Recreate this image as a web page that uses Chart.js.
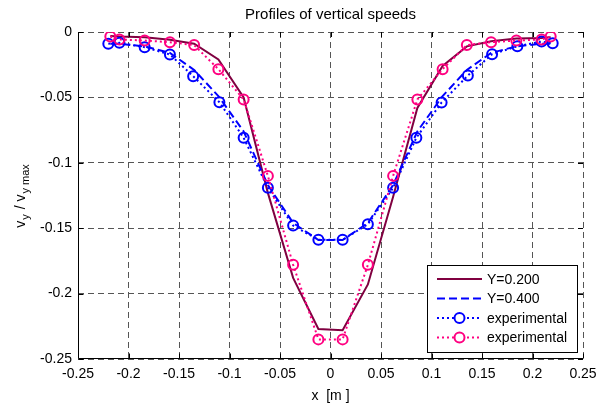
<!DOCTYPE html>
<html>
<head>
<meta charset="utf-8">
<script src="https://cdn.jsdelivr.net/npm/chart.js@4.4.0/dist/chart.umd.min.js"></script>
<style>
  html, body { margin: 0; padding: 0; background: #fff; }
</style>
</head>
<body>
<canvas id="grafico" width="599" height="405"></canvas>
<script>
// datos
const xSim = [-0.218, -0.209, -0.184, -0.159, -0.135, -0.111, -0.086, -0.062, -0.037, -0.012,
              0.012, 0.037, 0.062, 0.086, 0.111, 0.135, 0.159, 0.184, 0.209, 0.218];
const ySim200 = [-0.003, -0.0035, -0.004, -0.006, -0.009, -0.021, -0.050, -0.123, -0.188, -0.227,
                 -0.228, -0.193, -0.126, -0.058, -0.026, -0.011, -0.007, -0.005, -0.0045, -0.004];
const ySim400 = [-0.009, -0.009, -0.011, -0.016, -0.029, -0.049, -0.076, -0.117, -0.146, -0.159,
                 -0.159, -0.146, -0.117, -0.076, -0.049, -0.029, -0.016, -0.011, -0.009, -0.009];

const xExpAzul = [-0.220, -0.209, -0.184, -0.159, -0.136, -0.110, -0.086, -0.062, -0.037, -0.012,
                  0.012, 0.037, 0.062, 0.085, 0.110, 0.136, 0.160, 0.185, 0.209, 0.220];
const yExpAzul = [-0.0090, -0.0083, -0.0116, -0.0172, -0.0338, -0.0537, -0.0809, -0.1191, -0.148, -0.1589,
                  -0.1589, -0.147, -0.1191, -0.0808, -0.0539, -0.0333, -0.0170, -0.0109, -0.0073, -0.0086];

const xExpRosa = [-0.218, -0.209, -0.184, -0.159, -0.135, -0.111, -0.086, -0.062, -0.037, -0.012,
                  0.012, 0.037, 0.062, 0.086, 0.111, 0.135, 0.159, 0.184, 0.209, 0.218];
const yExpRosa = [-0.0035, -0.0057, -0.0065, -0.0078, -0.0100, -0.0284, -0.0516, -0.110, -0.178, -0.235,
                  -0.235, -0.178, -0.110, -0.0516, -0.0284, -0.0100, -0.0078, -0.0065, -0.0057, -0.0035];

const xTicks = [-0.25, -0.2, -0.15, -0.1, -0.05, 0, 0.05, 0.1, 0.15, 0.2, 0.25];
const yTicks = [0, -0.05, -0.1, -0.15, -0.2, -0.25];
const etiquetas = ["Y=0.200", "Y=0.400", "experimental", "experimental"];

const FUENTE = "'Liberation Sans', Arial, sans-serif";

function puntos(xs, ys) {
  return xs.map((x, i) => ({ x: x, y: ys[i] }));
}

// titulo, ejes, ticks interiores, etiqueta y, leyenda
const extras = {
  id: "extras",
  afterDraw(chart) {
    const { ctx, chartArea: a, scales } = chart;
    ctx.save();
    ctx.setLineDash([]);
    ctx.strokeStyle = "#000";
    ctx.lineWidth = 1;

    // ejes izquierdo e inferior
    const izq = Math.round(a.left) + 0.5, abajo = Math.round(a.bottom) - 0.5;
    ctx.beginPath();
    ctx.moveTo(izq, a.top); ctx.lineTo(izq, abajo);
    ctx.lineTo(a.right, abajo);
    ctx.stroke();

    // ticks hacia dentro
    ctx.beginPath();
    xTicks.forEach(v => {
      const px = Math.round(scales.x.getPixelForValue(v)) + 0.5;
      ctx.moveTo(px, abajo); ctx.lineTo(px, abajo - 5);
      ctx.moveTo(px, a.top); ctx.lineTo(px, a.top + 5);
    });
    yTicks.forEach(v => {
      const py = Math.round(scales.y.getPixelForValue(v)) + 0.5;
      ctx.moveTo(izq, py); ctx.lineTo(izq + 5, py);
      ctx.moveTo(a.right, py); ctx.lineTo(a.right - 5, py);
    });
    ctx.stroke();

    // titulo
    ctx.fillStyle = "#000";
    ctx.font = "15px " + FUENTE;
    ctx.textAlign = "center";
    ctx.textBaseline = "middle";
    ctx.fillText("Profiles of vertical speeds", (a.left + a.right) / 2, 15);

    // titulo eje x
    ctx.font = "14px " + FUENTE;
    ctx.fillText("x  [m ]", (a.left + a.right) / 2, 396);

    // etiqueta eje y con subindices
    const partes = [
      { t: "v", sub: false }, { t: "y", sub: true },
      { t: " / v", sub: false }, { t: "y max", sub: true }
    ];
    const fNormal = "14px " + FUENTE, fSub = "11px " + FUENTE;
    let total = 0;
    partes.forEach(p => { ctx.font = p.sub ? fSub : fNormal; p.w = ctx.measureText(p.t).width; total += p.w + (p.sub ? 2 : 0); });
    ctx.translate(21, (a.top + a.bottom) / 2);
    ctx.rotate(-Math.PI / 2);
    ctx.textAlign = "left";
    let cx = -total / 2;
    partes.forEach(p => {
      ctx.font = p.sub ? fSub : fNormal;
      ctx.fillText(p.t, cx + (p.sub ? 1 : 0), p.sub ? 5 : 0);
      cx += p.w + (p.sub ? 2 : 0);
    });
    ctx.setTransform(1, 0, 0, 1, 0, 0);

    // leyenda
    const lx = 427, ly = 265, lw = 150, lh = 87;
    ctx.fillStyle = "#fff";
    ctx.fillRect(lx, ly, lw, lh);
    ctx.strokeStyle = "#000";
    ctx.lineWidth = 1;
    ctx.strokeRect(lx + 0.5, ly + 0.5, lw, lh);
    chart.data.datasets.forEach((ds, i) => {
      const yy = ly + 14 + i * 19.5;
      ctx.strokeStyle = ds.borderColor;
      ctx.lineWidth = ds.borderWidth;
      ctx.setLineDash(ds.borderDash || []);
      ctx.beginPath();
      ctx.moveTo(lx + 10, yy); ctx.lineTo(lx + 55, yy);
      ctx.stroke();
      ctx.setLineDash([]);
      if (ds.pointRadius > 0) {
        ctx.beginPath();
        ctx.arc(lx + 32.5, yy, ds.pointRadius, 0, Math.PI * 2);
        ctx.fillStyle = "#fff";
        ctx.fill();
        ctx.lineWidth = ds.pointBorderWidth;
        ctx.strokeStyle = ds.pointBorderColor;
        ctx.stroke();
      }
      ctx.fillStyle = "#000";
      ctx.font = "14px " + FUENTE;
      ctx.textAlign = "left";
      ctx.textBaseline = "middle";
      ctx.fillText(etiquetas[i], lx + 60, yy + 1);
    });
    ctx.restore();
  }
};

new Chart(document.getElementById("grafico"), {
  type: "line",
  data: {
    datasets: [
      {
        label: etiquetas[0],
        data: puntos(xSim, ySim200),
        borderColor: "#800040",
        borderWidth: 2,
        pointRadius: 0,
        order: 4
      },
      {
        label: etiquetas[1],
        data: puntos(xSim, ySim400),
        borderColor: "#0000ff",
        borderWidth: 2,
        borderDash: [8, 4],
        pointRadius: 0,
        order: 3
      },
      {
        label: etiquetas[2],
        data: puntos(xExpAzul, yExpAzul),
        borderColor: "#0000ff",
        borderWidth: 2,
        borderDash: [2, 3],
        pointRadius: 5,
        pointBorderWidth: 2,
        pointBorderColor: "#0000ff",
        pointBackgroundColor: "rgba(0,0,0,0)",
        order: 2
      },
      {
        label: etiquetas[3],
        data: puntos(xExpRosa, yExpRosa),
        borderColor: "#ff0080",
        borderWidth: 2,
        borderDash: [2, 3],
        pointRadius: 5,
        pointBorderWidth: 2,
        pointBorderColor: "#ff0080",
        pointBackgroundColor: "rgba(0,0,0,0)",
        order: 1
      }
    ]
  },
  options: {
    responsive: false,
    animation: false,
    devicePixelRatio: 1,
    layout: { padding: { top: 32, right: 16, left: 0, bottom: 0 } },
    plugins: { legend: { display: false }, tooltip: { enabled: false } },
    elements: { line: { tension: 0 } },
    scales: {
      x: {
        type: "linear",
        min: -0.25,
        max: 0.25,
        afterBuildTicks: s => { s.ticks = xTicks.map(v => ({ value: v })); },
        afterFit: s => { s.height = 46; s.paddingLeft = 0; s.paddingRight = 0; },
        ticks: {
          autoSkip: false,
          maxRotation: 0,
          padding: 7,
          color: "#000",
          font: { family: FUENTE, size: 14 },
          callback: v => String(v)
        },
        grid: { color: "#555", lineWidth: 1, drawTicks: false },
        border: { display: false, dash: [6, 4] }
      },
      y: {
        type: "linear",
        min: -0.25,
        max: 0,
        afterBuildTicks: s => { s.ticks = yTicks.map(v => ({ value: v })); },
        afterFit: s => { s.width = 78; s.paddingTop = 0; s.paddingBottom = 0; },
        ticks: {
          autoSkip: false,
          padding: 6,
          color: "#000",
          font: { family: FUENTE, size: 14 },
          callback: v => String(v)
        },
        grid: { color: "#555", lineWidth: 1, drawTicks: false },
        border: { display: false, dash: [6, 4] }
      }
    }
  },
  plugins: [extras]
});
</script>
</body>
</html>
